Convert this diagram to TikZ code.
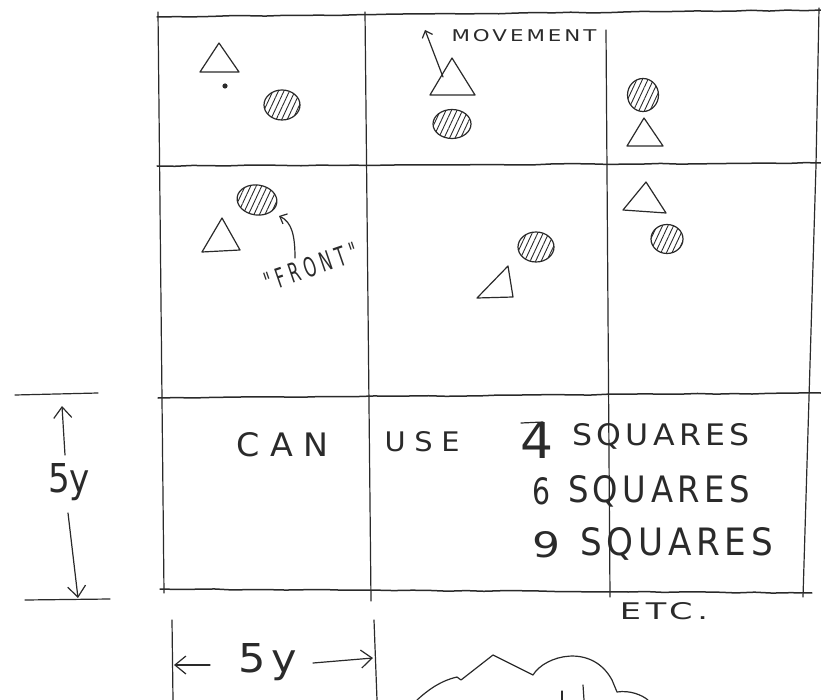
\documentclass[tikz,border=0pt]{standalone}
\usepackage{fontspec}
\setmainfont{DejaVu Sans}
\newfontfamily\hand[LetterSpace=14]{DejaVu Sans}
\newfontfamily\handwide[LetterSpace=30]{DejaVu Sans}
\usetikzlibrary{arrows.meta,shapes.geometric,patterns.meta,decorations.pathmorphing}
\definecolor{inkc}{HTML}{2A2A2A}
\begin{document}
\begin{tikzpicture}[x=1pt,y=-1pt,
  ink/.style={draw=inkc, line width=1.2pt, line cap=round, line join=round},
  gridline/.style={ink, line width=1.5pt, decorate, decoration={random steps, segment length=18pt, amplitude=0.5pt}},
  hatch/.style={ellipse, draw=inkc, line width=1.2pt, inner sep=0pt,
    pattern={Lines[angle=65,distance=5pt,line width=0.9pt]}, pattern color=inkc},
  txt/.style={inner sep=0pt, text=inkc, font=\hand},
  wtxt/.style={inner sep=0pt, text=inkc, font=\handwide},
  barb/.style={-{Straight Barb[length=6pt,width=11pt,line width=1.2pt]}},
  bigbarb/.style={-{Straight Barb[length=11pt,width=18pt,line width=1.2pt]}},
]
\pgfmathsetseed{7}
\useasboundingbox (0,0) rectangle (821,700);

% ---------- grid ----------
\coordinate (h1a) at (157,17);  \coordinate (h1b) at (821,10);
\coordinate (h2a) at (157,166); \coordinate (h2b) at (821,163);
\coordinate (h3a) at (158,398); \coordinate (h3b) at (821,393);
\coordinate (h4a) at (160,589); \coordinate (h4b) at (812,593);
\draw[gridline] (h1a) -- (h1b);
\draw[gridline] (h2a) -- (h2b);
\draw[gridline] (h3a) -- (h3b);
\draw[gridline] (h4a) -- (h4b);
\coordinate (v1a) at (158,12);  \coordinate (v1b) at (164,593);
\coordinate (v2a) at (365,12);  \coordinate (v2b) at (371,601);
\coordinate (v3a) at (606,30);  \coordinate (v3b) at (610,597);
\coordinate (v4a) at (819,8);   \coordinate (v4m) at (816,165); \coordinate (v4b) at (803,597);
\draw[ink] (v1a) -- (v1b);
\draw[ink] (v2a) -- (v2b);
\draw[ink] (v3a) -- (v3b);
\draw[ink] (v4a) -- (v4m) -- (v4b);

% ---------- top row ----------
\draw[ink] (200,72) -- (219,43) -- (239,72) -- cycle;
\fill[inkc] (225,86) circle (2.6pt);
\node[hatch, minimum width=36pt, minimum height=30pt] (c1) at (282,105) {};

\draw[ink] (430,95) -- (452,58) -- (475,95) -- cycle;
\coordinate (mvS) at (443,77);
\coordinate (mvE) at (425,30);
\draw[ink, barb] (mvS) -- (mvE);
\node[txt] (mv) at (524,36) {\resizebox{145pt}{12pt}{MOVEMENT}};
\node[hatch, minimum width=38pt, minimum height=29pt] (c2) at (452,124) {};

\node[hatch, minimum width=31pt, minimum height=33pt] (c3) at (643,95) {};
\draw[ink] (627,146) -- (644,118) -- (663,146) -- cycle;

% ---------- middle row ----------
\node[hatch, minimum width=40pt, minimum height=30pt, rotate=-8] (c4) at (257,200) {};
\draw[ink] (202,252) -- (222,218) -- (240,250) -- cycle;
\coordinate (frS) at (295,258);
\coordinate (frE) at (279,216);
\draw[ink, barb] (frS) .. controls (295,236) and (292,222) .. (frE);
\node[wtxt, rotate=19] (front) at (311,267) {\resizebox{97pt}{20pt}{"FRONT"}};

\node[hatch, minimum width=36pt, minimum height=30pt] (c5) at (536,247) {};
\draw[ink] (477,298) -- (508,266) -- (513,297) -- cycle;

\draw[ink] (623,210) -- (646,182) -- (666,213) -- cycle;
\node[hatch, minimum width=32pt, minimum height=29pt] (c6) at (667,239) {};

% ---------- bottom row text ----------
\node[wtxt] (can) at (282.5,445) {\resizebox{91pt}{24pt}{CAN}};
\node[wtxt] (use) at (422,442) {\resizebox{75pt}{20pt}{USE}};
\node[txt] (four) at (536.5,440) {\resizebox{33pt}{36pt}{4}};
\draw[ink] (521,423) -- (543,422);
\node[txt] (sq1) at (661,436) {\resizebox{178pt}{22pt}{SQUARES}};
\node[txt] (six) at (541,491.5) {\resizebox{18pt}{27pt}{6}};
\node[txt] (sq2) at (659,491.5) {\resizebox{182pt}{27pt}{SQUARES}};
\node[txt] (nine) at (546,545) {\resizebox{28pt}{26pt}{9}};
\node[txt] (sq3) at (676.5,544) {\resizebox{193pt}{28pt}{SQUARES}};
\node[txt] (etc) at (664,611) {\resizebox{88pt}{17pt}{ETC.}};

% ---------- vertical dimension ----------
\coordinate (vt1) at (15,395); \coordinate (vt2) at (98,393);
\coordinate (vb1) at (25,600); \coordinate (vb2) at (110,599);
\draw[ink] (vt1) -- (vt2);
\draw[ink] (vb1) -- (vb2);
\node[inner sep=0pt, text=inkc, anchor=base west] (vlab) at (48,492) {\resizebox{42pt}{29pt}{5y}};
\coordinate (vuS) at (65,455); \coordinate (vuE) at (62,406);
\coordinate (vdS) at (68,513); \coordinate (vdE) at (78,598);
\draw[ink, bigbarb] (vuS) -- (vuE);
\draw[ink, bigbarb] (vdS) -- (vdE);

% ---------- horizontal dimension ----------
\coordinate (hl1) at (172,620); \coordinate (hl2) at (173,700);
\coordinate (hr1) at (374,620); \coordinate (hr2) at (377,700);
\draw[ink] (hl1) -- (hl2);
\draw[ink] (hr1) -- (hr2);
\node[txt, anchor=base west] (hlab) at (238,672) {\resizebox{59pt}{29pt}{5y}};
\coordinate (hlS) at (210,665); \coordinate (hlE) at (174,665);
\coordinate (hrS) at (313,663); \coordinate (hrE) at (373,658);
\draw[ink, bigbarb] (hlS) -- (hlE);
\draw[ink, bigbarb] (hrS) -- (hrE);

% ---------- cloud ----------
\draw[ink] (417,700) .. controls (428,690) and (440,681) .. (457,677) -- (461,680) -- (493,655) -- (533,675)
  .. controls (545,655) and (592,643) .. (612,680) -- (617,692) .. controls (630,690) and (642,695) .. (648,700);
\draw[ink] (562,691) -- (562,700);
\draw[ink] (583,685) -- (584,700);
\end{tikzpicture}
\end{document}
